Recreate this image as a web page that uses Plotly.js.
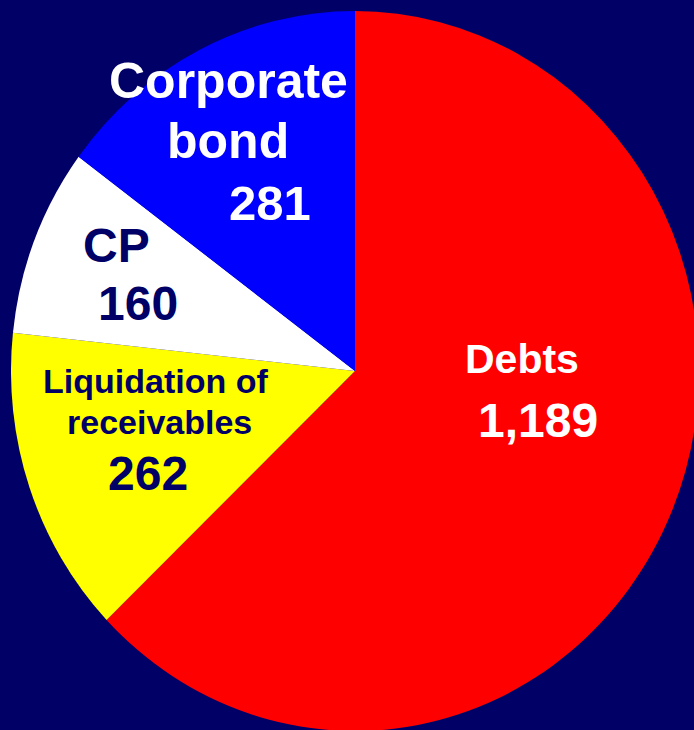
<!DOCTYPE html>
<html>
<head>
<meta charset="utf-8">
<script src="https://cdn.plot.ly/plotly-3.0.1.min.js"></script>
<style>
  html, body { margin: 0; padding: 0; width: 694px; height: 730px; overflow: hidden; background: #000066; }
  #pie { position: absolute; left: 11px; top: 27px; width: 688px; height: 688px;
         transform: scaleY(1.0465); transform-origin: 50% 50%; }
  #labels { position: absolute; left: 0; top: 0; width: 694px; height: 730px; pointer-events: none; }
</style>
</head>
<body>
<div id="pie"></div>
<div id="labels"></div>
<script>
// ---- data ----
const categories = ['Debts', 'Liquidation of receivables', 'CP', 'Corporate bond'];
const values = [1189, 262, 160, 281];
const sliceColors = ['#FF0000', '#FFFF00', '#FFFFFF', '#0000FF'];
const labelLines = [['Debts'], ['Liquidation of', 'receivables'], ['CP'], ['Corporate', 'bond']];

// ---- pie ----
Plotly.newPlot('pie', [{
  type: 'pie',
  labels: categories,
  values: values,
  sort: false,
  direction: 'clockwise',
  rotation: 0,
  textinfo: 'none',
  hoverinfo: 'label+value',
  marker: { colors: sliceColors, line: { width: 0 } },
  domain: { x: [0, 1], y: [0, 1] }
}], {
  width: 688, height: 688,
  margin: { l: 0, r: 0, t: 0, b: 0, pad: 0 },
  paper_bgcolor: 'rgba(0,0,0,0)',
  plot_bgcolor: 'rgba(0,0,0,0)',
  showlegend: false
}, { displayModeBar: false, staticPlot: true });

// ---- labels (placement in pixel space of the window) ----
const NAVY = '#000066', WHITE = '#FFFFFF';
const fam = 'Liberation Sans, Arial, Helvetica, sans-serif';
const placement = [
  { color: WHITE, lines: [[521.5, 359, 41]], value: [537.5, 420, 48] },
  { color: NAVY,  lines: [[155, 380.5, 34], [159, 421.5, 34]], value: [147.5, 473.5, 48] },
  { color: NAVY,  lines: [[116.5, 245.5, 48]], value: [138, 303.5, 48] },
  { color: WHITE, lines: [[228, 81, 50], [228, 141, 50]], value: [270, 203, 49] }
];
const annotations = [];
categories.forEach((c, i) => {
  const p = placement[i];
  labelLines[i].forEach((t, j) => {
    const [x, y, s] = p.lines[j];
    annotations.push({ x, y, xref: 'x', yref: 'y', text: t, showarrow: false,
      xanchor: 'center', yanchor: 'middle',
      font: { family: fam, size: s, color: p.color, weight: 'bold' } });
  });
  const [vx, vy, vs] = p.value;
  annotations.push({ x: vx, y: vy, xref: 'x', yref: 'y',
    text: values[i].toLocaleString('en-US'), showarrow: false,
    xanchor: 'center', yanchor: 'middle',
    font: { family: fam, size: vs, color: p.color, weight: 'bold' } });
});

Plotly.newPlot('labels', [], {
  width: 694, height: 730,
  margin: { l: 0, r: 0, t: 0, b: 0, pad: 0 },
  paper_bgcolor: 'rgba(0,0,0,0)',
  plot_bgcolor: 'rgba(0,0,0,0)',
  xaxis: { range: [0, 694], visible: false, fixedrange: true },
  yaxis: { range: [730, 0], visible: false, fixedrange: true },
  annotations: annotations,
  showlegend: false
}, { displayModeBar: false, staticPlot: true });
</script>
</body>
</html>
